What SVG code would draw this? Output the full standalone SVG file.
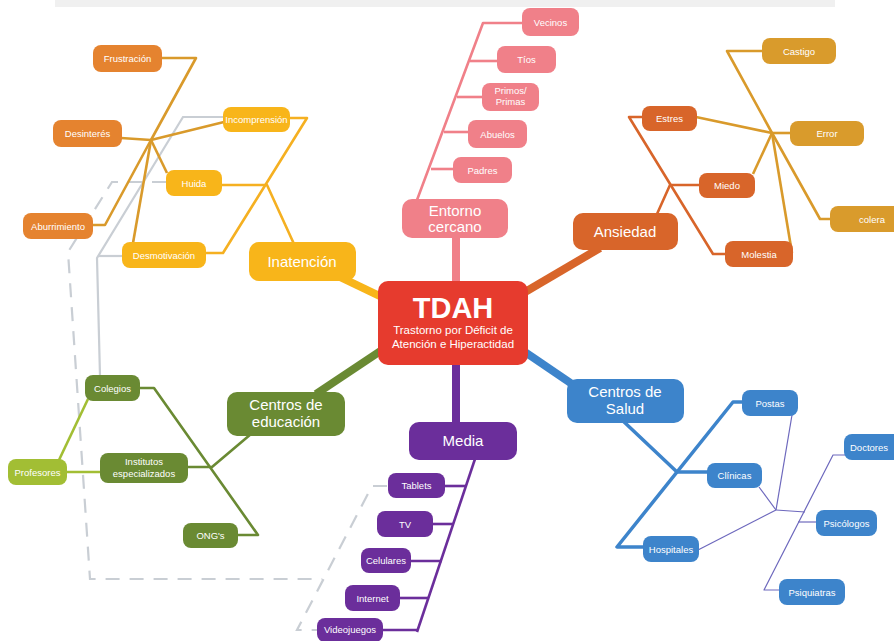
<svg xmlns="http://www.w3.org/2000/svg" width="894" height="641" viewBox="0 0 894 641">
<style>
text{font-family:"Liberation Sans",Arial,sans-serif;fill:#fff;text-anchor:middle}
.s{font-size:9.5px}
.m{font-size:15px}
.ln{fill:none;stroke-linejoin:round;stroke-linecap:butt}
.thick{stroke-width:8}
.sub{stroke-width:2.6}
.thin{stroke-width:1.2}
.gray{fill:none;stroke:#c9ced4;stroke-width:2.2}
.dash{fill:none;stroke:#c9ced4;stroke-width:2.2;stroke-dasharray:14 10}
.red{fill:#e63b2e}
.yel{fill:#f8b51a}
.org{fill:#e5832f}
.pink{fill:#f08089}
.ans{fill:#d8652a}
.gold{fill:#d99b2c}
.blue{fill:#3d84cb}
.pur{fill:#6b2e9b}
.grn{fill:#6a8a33}
.lgrn{fill:#a2be34}
</style>
<rect x="55" y="0" width="780" height="7" fill="#f0f0f0"/>
<g id="connectors">
  <g id="gray-links">
    <path class="gray" d="M223,117 L183,117 L97,258 L100,376"/>
    <path class="gray" d="M122,256 L98,256"/>
    <path class="dash" d="M166,182 L112,182 L68,252 L90,579 L322,579"/>
    <path class="dash" d="M387,486 L372,486 L297,630 L317,630"/>
  </g>
  <g id="main-links" class="ln thick">
    <line x1="340" y1="277" x2="388" y2="300" stroke="#f8b51a"/>
    <line x1="456" y1="236" x2="456" y2="283" stroke="#f08089"/>
    <line x1="600" y1="248" x2="520" y2="295" stroke="#d8652a"/>
    <line x1="572" y1="384" x2="522" y2="350" stroke="#3d84cb"/>
    <line x1="456" y1="362" x2="456" y2="424" stroke="#6b2e9b"/>
    <line x1="316" y1="394" x2="385" y2="348" stroke="#6a8a33"/>
  </g>
  <g id="inatencion-links" class="ln sub" stroke="#f5b021">
    <path d="M289,118 L307,118 L223,253 L205,253"/>
    <path d="M221,185 L267,185 L294,244"/>
  </g>
  <g id="mot-links" class="ln sub" stroke="#d99a2b">
    <path d="M161,58 L196,58 L151,140"/>
    <line x1="121" y1="138" x2="151" y2="140"/>
    <line x1="151" y1="140" x2="224" y2="122"/>
    <line x1="151" y1="140" x2="167" y2="173"/>
    <path d="M151,140 L105,225 L92,225"/>
    <line x1="151" y1="140" x2="133" y2="243"/>
  </g>
  <g id="entorno-links" class="ln sub" stroke="#f08089">
    <path d="M417,200 L483,23 L523,23"/>
    <line x1="470" y1="61" x2="498" y2="61"/>
    <line x1="457" y1="97" x2="483" y2="97"/>
    <line x1="444" y1="132" x2="469" y2="132"/>
    <line x1="431" y1="169" x2="454" y2="169"/>
  </g>
  <g id="ansiedad-links" class="ln sub" stroke="#d8652a">
    <path d="M657,214 L670,185 L700,185"/>
    <path d="M643,117 L629,117 L713,254 L726,254"/>
  </g>
  <g id="emo-links" class="ln sub" stroke="#d99a2b">
    <path d="M763,51 L727,51 L772,133"/>
    <line x1="696" y1="117" x2="772" y2="133"/>
    <line x1="772" y1="133" x2="791" y2="133"/>
    <line x1="753" y1="174" x2="772" y2="133"/>
    <path d="M772,133 L820,219 L831,219"/>
    <line x1="772" y1="133" x2="792" y2="253"/>
  </g>
  <g id="salud-links" class="ln" stroke="#3d84cb" stroke-width="3.5">
    <path d="M622,420 L677,472 L708,472"/>
    <path d="M743,402 L733,402 L617,547 L644,547"/>
  </g>
  <g id="prof-links" class="ln thin" stroke="#6d68bd">
    <line x1="792" y1="415" x2="776" y2="510"/>
    <line x1="759" y1="487" x2="776" y2="510"/>
    <line x1="698" y1="550" x2="776" y2="510"/>
    <line x1="776" y1="510" x2="805" y2="512"/>
    <path d="M780,590 L764,590 L833,455 L845,455"/>
    <line x1="798" y1="522" x2="817" y2="522"/>
  </g>
  <g id="media-links" class="ln sub" stroke="#6b2e9b">
    <line x1="475" y1="459" x2="417" y2="632"/>
    <line x1="444" y1="486" x2="466" y2="486"/>
    <line x1="432" y1="524" x2="454" y2="524"/>
    <line x1="409" y1="561" x2="442" y2="561"/>
    <line x1="399" y1="598" x2="429" y2="598"/>
    <line x1="382" y1="630" x2="418" y2="630"/>
  </g>
  <g id="edu-links" class="ln sub" stroke="#6a8a33">
    <path d="M251,434 L212,467 L187,467"/>
    <path d="M139,388 L154,388 L258,535 L237,535"/>
  </g>
  <g id="prof2-links" class="ln sub" stroke="#a2be34">
    <line x1="59" y1="460" x2="88" y2="399"/>
    <line x1="66" y1="472" x2="101" y2="472"/>
  </g>
</g>

<g id="tdah"><rect class="red" x="378" y="281" width="150" height="84" rx="10"/>
<text x="453" y="318" style="font-size:29px;font-weight:bold">TDAH</text>
<text x="453" y="334" style="font-size:11.5px">Trastorno por Déficit de</text>
<text x="453" y="348" style="font-size:11.5px">Atención e Hiperactidad</text></g>

<g id="inatencion"><rect class="yel" x="249" y="242" width="107" height="39" rx="10"/><text class="m" x="302" y="267">Inatención</text></g>
<g id="entorno"><rect class="pink" x="402" y="199" width="106" height="39" rx="10"/><text class="m" x="455" y="216">Entorno</text><text class="m" x="455" y="232">cercano</text></g>
<g id="ansiedad"><rect class="ans" x="573" y="213" width="105" height="37" rx="10"/><text class="m" x="625" y="237">Ansiedad</text></g>
<g id="centros-salud"><rect class="blue" x="567" y="379" width="117" height="44" rx="10"/><text class="m" x="625" y="397">Centros de</text><text class="m" x="625" y="414">Salud</text></g>
<g id="media"><rect class="pur" x="409" y="422" width="108" height="38" rx="10"/><text class="m" x="463" y="446">Media</text></g>
<g id="centros-edu"><rect class="grn" x="227" y="392" width="118" height="44" rx="10"/><text class="m" x="286" y="410">Centros de</text><text class="m" x="286" y="427">educación</text></g>

<g id="frustracion"><rect class="org" x="93" y="45" width="69" height="27" rx="8"/><text class="s" x="127.5" y="62">Frustración</text></g>
<g id="desinteres"><rect class="org" x="53" y="120" width="69" height="27" rx="8"/><text class="s" x="87.5" y="137">Desinterés</text></g>
<g id="aburrimiento"><rect class="org" x="23" y="213" width="70" height="26" rx="8"/><text class="s" x="58" y="229.5">Aburrimiento</text></g>
<g id="incomprension"><rect class="yel" x="223" y="107" width="67" height="25" rx="8"/><text class="s" x="256.5" y="123">Incomprensión</text></g>
<g id="huida"><rect class="yel" x="166" y="170" width="56" height="26" rx="8"/><text class="s" x="194" y="186.5">Huida</text></g>
<g id="desmotivacion"><rect class="yel" x="122" y="242" width="84" height="26" rx="8"/><text class="s" x="164" y="258.5">Desmotivación</text></g>

<g id="vecinos"><rect class="pink" x="522" y="8" width="57" height="28" rx="8"/><text class="s" x="550.5" y="25.5">Vecinos</text></g>
<g id="tios"><rect class="pink" x="497" y="46" width="59" height="27" rx="8"/><text class="s" x="526.5" y="63">Tíos</text></g>
<g id="primos"><rect class="pink" x="482" y="83" width="57" height="28" rx="8"/><text class="s" x="510.5" y="94">Primos/</text><text class="s" x="510.5" y="105">Primas</text></g>
<g id="abuelos"><rect class="pink" x="468" y="120" width="59" height="28" rx="8"/><text class="s" x="497.5" y="137.5">Abuelos</text></g>
<g id="padres"><rect class="pink" x="453" y="157" width="59" height="26" rx="8"/><text class="s" x="482.5" y="173.5">Padres</text></g>

<g id="estres"><rect class="ans" x="642" y="106" width="55" height="25" rx="8"/><text class="s" x="669.5" y="122">Estres</text></g>
<g id="miedo"><rect class="ans" x="699" y="173" width="56" height="25" rx="8"/><text class="s" x="727" y="189">Miedo</text></g>
<g id="molestia"><rect class="ans" x="725" y="241" width="68" height="26" rx="8"/><text class="s" x="759" y="257.5">Molestia</text></g>
<g id="castigo"><rect class="gold" x="762" y="38" width="74" height="26" rx="8"/><text class="s" x="799" y="54.5">Castigo</text></g>
<g id="error"><rect class="gold" x="790" y="121" width="74" height="25" rx="8"/><text class="s" x="827" y="137">Error</text></g>
<g id="colera"><rect class="gold" x="830" y="206" width="80" height="26" rx="8"/><text class="s" x="872" y="222.5">colera</text></g>

<g id="postas"><rect class="blue" x="742" y="390" width="56" height="26" rx="8"/><text class="s" x="770" y="406.5">Postas</text></g>
<g id="clinicas"><rect class="blue" x="707" y="463" width="55" height="25" rx="8"/><text class="s" x="734.5" y="479">Clínicas</text></g>
<g id="hospitales"><rect class="blue" x="643" y="536" width="56" height="26" rx="8"/><text class="s" x="671" y="552.5">Hospitales</text></g>
<g id="doctores"><rect class="blue" x="844" y="434" width="58" height="26" rx="8"/><text class="s" x="869" y="450.5">Doctores</text></g>
<g id="psicologos"><rect class="blue" x="816" y="510" width="61" height="26" rx="8"/><text class="s" x="846.5" y="526.5">Psicólogos</text></g>
<g id="psiquiatras"><rect class="blue" x="779" y="579" width="66" height="26" rx="8"/><text class="s" x="812" y="595.5">Psiquiatras</text></g>

<g id="tablets"><rect class="pur" x="388" y="473" width="57" height="25" rx="8"/><text class="s" x="416.5" y="489">Tablets</text></g>
<g id="tv"><rect class="pur" x="377" y="511" width="56" height="26" rx="8"/><text class="s" x="405" y="527.5">TV</text></g>
<g id="celulares"><rect class="pur" x="361" y="548" width="50" height="25" rx="8"/><text class="s" x="386" y="564">Celulares</text></g>
<g id="internet"><rect class="pur" x="345" y="585" width="55" height="26" rx="8"/><text class="s" x="372.5" y="601.5">Internet</text></g>
<g id="videojuegos"><rect class="pur" x="317" y="618" width="66" height="24" rx="8"/><text class="s" x="350" y="633">Videojuegos</text></g>

<g id="colegios"><rect class="grn" x="85" y="375" width="55" height="26" rx="8"/><text class="s" x="112.5" y="391.5">Colegios</text></g>
<g id="institutos"><rect class="grn" x="100" y="453" width="88" height="30" rx="8"/><text class="s" x="144" y="465">Institutos</text><text class="s" x="144" y="477">especializados</text></g>
<g id="ongs"><rect class="grn" x="183" y="523" width="55" height="25" rx="8"/><text class="s" x="210.5" y="539">ONG's</text></g>
<g id="profesores"><rect class="lgrn" x="8" y="459" width="59" height="26" rx="8"/><text class="s" x="37.5" y="475.5">Profesores</text></g>
</svg>
